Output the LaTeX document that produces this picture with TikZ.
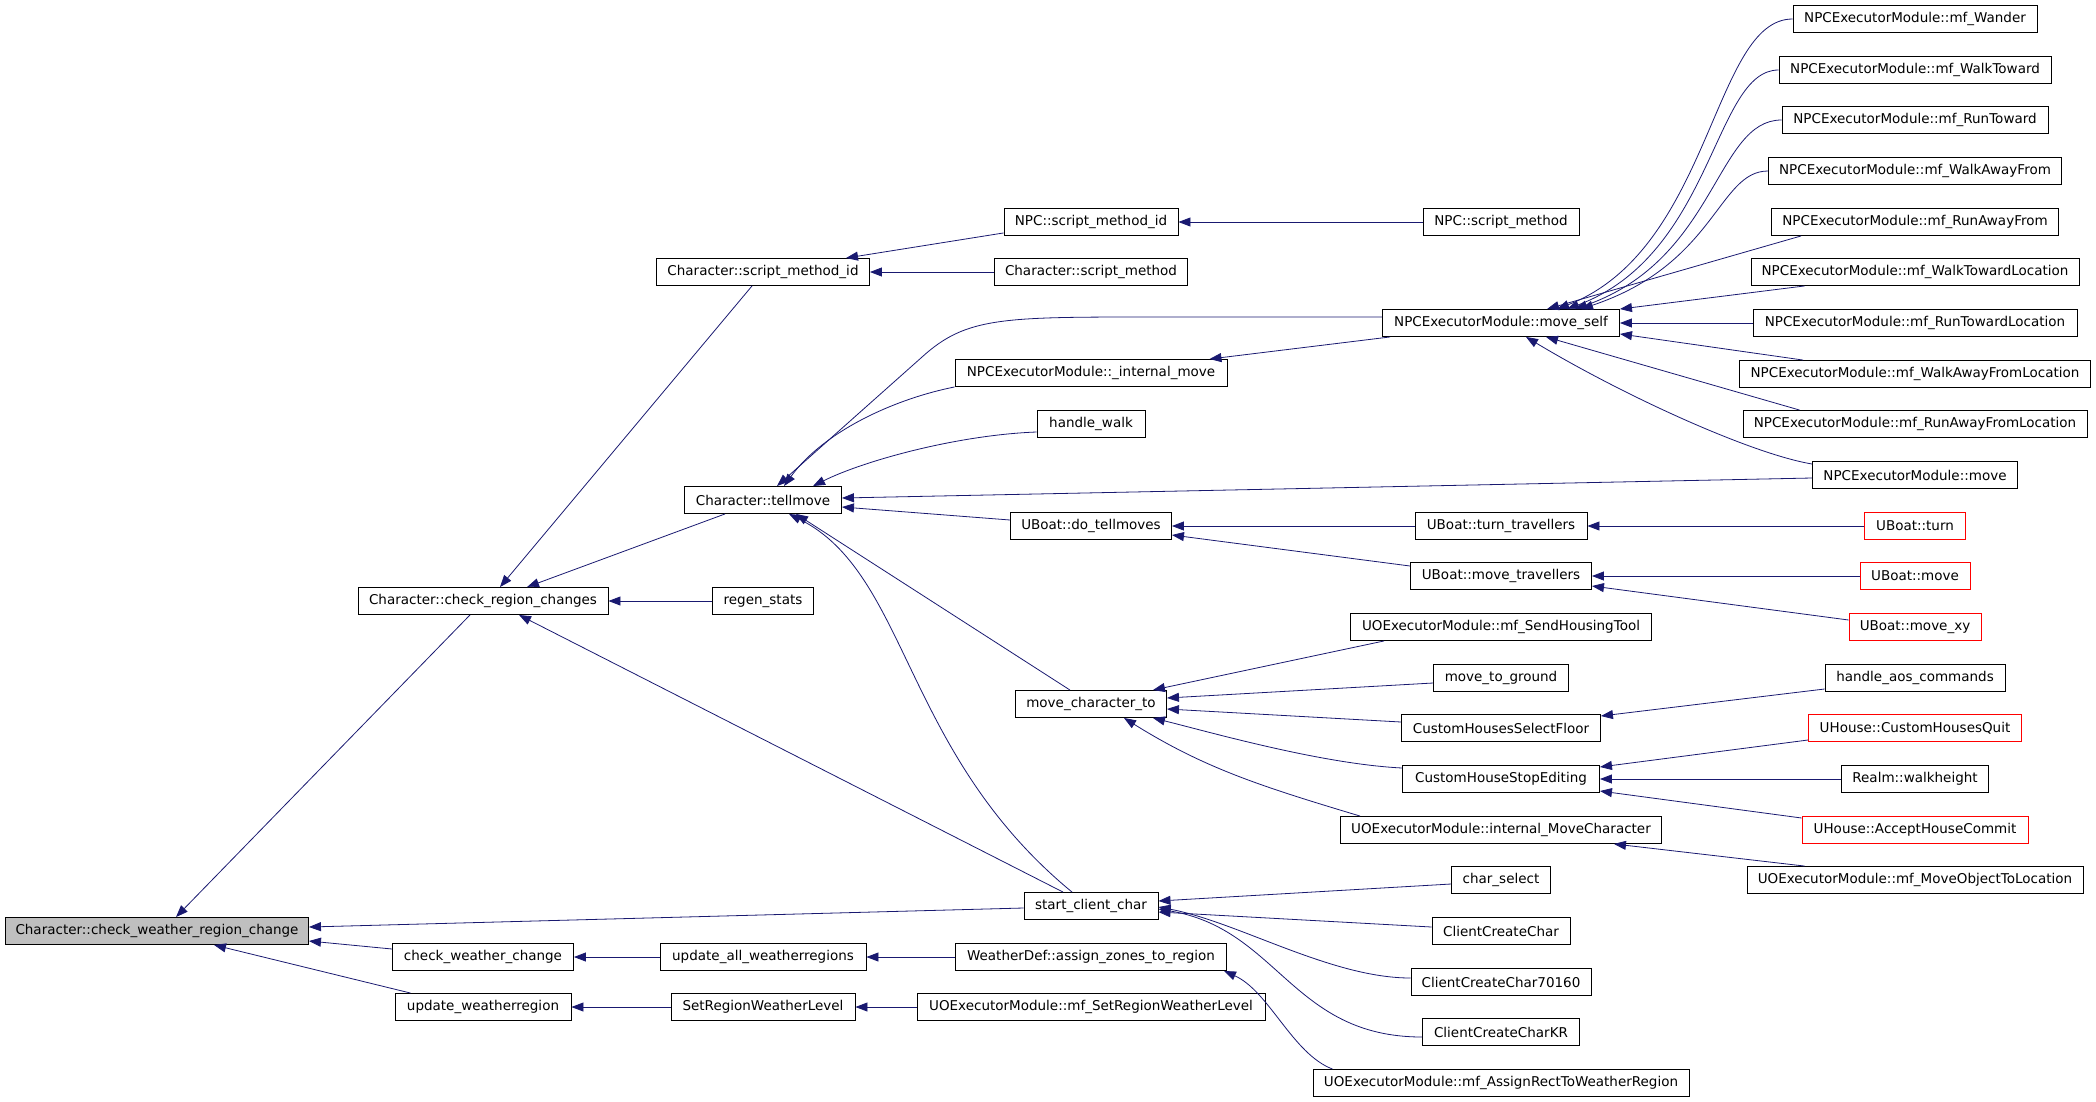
\documentclass[tikz,border=0pt]{standalone}
\usepackage{fontspec}
\setmainfont{DejaVu Sans}
\usetikzlibrary{arrows.meta}
\definecolor{edgeblue}{HTML}{191970}
\definecolor{rootgray}{HTML}{BFBFBF}

\begin{document}
\begin{tikzpicture}[
    x=1pt, y=1pt,
    fn/.style={rectangle, draw, line width=0.9pt, minimum height=27pt, inner sep=0pt,
        font=\fontsize{13.5}{16}\selectfont},
    fnred/.style={fn, draw=red},
    fnroot/.style={fn, fill=rootgray},
    call/.style={draw=edgeblue, line width=0.8pt, -{Triangle[length=12pt, width=9pt]}}
]
    \useasboundingbox (0,0) rectangle (2096,-1101);

    % Root
    \node[fnroot, minimum width=303pt] (cwrc) at (157,-931) {Character::check\_weather\_region\_change};

    % First level callers
    \node[fn, minimum width=250pt] (crc) at (483,-601) {Character::check\_region\_changes};
    \node[fn, minimum width=181pt] (cwc) at (483,-957) {check\_weather\_change};
    \node[fn, minimum width=176pt] (uwr) at (483,-1007) {update\_weatherregion};

    % Second level
    \node[fn, minimum width=213pt] (csmi) at (763,-272) {Character::script\_method\_id};
    \node[fn, minimum width=157pt] (ctm) at (763,-500) {Character::tellmove};
    \node[fn, minimum width=101pt] (regen) at (763,-601) {regen\_stats};
    \node[fn, minimum width=206pt] (uawr) at (763,-957) {update\_all\_weatherregions};
    \node[fn, minimum width=184pt] (srwl) at (763,-1007) {SetRegionWeatherLevel};

    % Third level
    \node[fn, minimum width=174pt] (npcsmi) at (1091,-222) {NPC::script\_method\_id};
    \node[fn, minimum width=193pt] (csm) at (1091,-272) {Character::script\_method};
    \node[fn, minimum width=272pt] (im) at (1091,-373) {NPCExecutorModule::\_internal\_move};
    \node[fn, minimum width=108pt] (hw) at (1091,-424) {handle\_walk};
    \node[fn, minimum width=161pt] (dtm) at (1091,-526) {UBoat::do\_tellmoves};
    \node[fn, minimum width=151pt] (mct) at (1091,-704) {move\_character\_to};
    \node[fn, minimum width=134pt] (scc) at (1091,-906) {start\_client\_char};
    \node[fn, minimum width=271pt] (wdaz) at (1091,-957) {WeatherDef::assign\_zones\_to\_region};
    \node[fn, minimum width=348pt] (msrwl) at (1091,-1007) {UOExecutorModule::mf\_SetRegionWeatherLevel};

    % Fourth level
    \node[fn, minimum width=156pt] (npcsm) at (1501,-222) {NPC::script\_method};
    \node[fn, minimum width=237pt] (ms) at (1501,-323) {NPCExecutorModule::move\_self};
    \node[fn, minimum width=172pt] (ttr) at (1501,-526) {UBoat::turn\_travellers};
    \node[fn, minimum width=181pt] (mtr) at (1501,-576) {UBoat::move\_travellers};
    \node[fn, minimum width=301pt] (shtool) at (1501,-627) {UOExecutorModule::mf\_SendHousingTool};
    \node[fn, minimum width=135pt] (mtg) at (1501,-678) {move\_to\_ground};
    \node[fn, minimum width=199pt] (chsf) at (1501,-728) {CustomHousesSelectFloor};
    \node[fn, minimum width=197pt] (chse) at (1501,-779) {CustomHouseStopEditing};
    \node[fn, minimum width=321pt] (imc) at (1501,-830) {UOExecutorModule::internal\_MoveCharacter};
    \node[fn, minimum width=99pt] (chs) at (1501,-880) {char\_select};
    \node[fn, minimum width=138pt] (ccc) at (1501,-931) {ClientCreateChar};
    \node[fn, minimum width=180pt] (ccc7) at (1501,-982) {ClientCreateChar70160};
    \node[fn, minimum width=157pt] (cckr) at (1501,-1032) {ClientCreateCharKR};
    \node[fn, minimum width=376pt] (arwr) at (1501,-1083) {UOExecutorModule::mf\_AssignRectToWeatherRegion};

    % Fifth level
    \node[fn, minimum width=244pt] (wander) at (1915,-19) {NPCExecutorModule::mf\_Wander};
    \node[fn, minimum width=272pt] (wt) at (1915,-70) {NPCExecutorModule::mf\_WalkToward};
    \node[fn, minimum width=266pt] (rt) at (1915,-120) {NPCExecutorModule::mf\_RunToward};
    \node[fn, minimum width=293pt] (waf) at (1915,-171) {NPCExecutorModule::mf\_WalkAwayFrom};
    \node[fn, minimum width=287pt] (raf) at (1915,-222) {NPCExecutorModule::mf\_RunAwayFrom};
    \node[fn, minimum width=328pt] (wtl) at (1915,-272) {NPCExecutorModule::mf\_WalkTowardLocation};
    \node[fn, minimum width=324pt] (rtl) at (1915,-323) {NPCExecutorModule::mf\_RunTowardLocation};
    \node[fn, minimum width=351pt] (wafl) at (1915,-374) {NPCExecutorModule::mf\_WalkAwayFromLocation};
    \node[fn, minimum width=344pt] (rafl) at (1915,-424) {NPCExecutorModule::mf\_RunAwayFromLocation};
    \node[fn, minimum width=205pt] (npcmove) at (1915,-475) {NPCExecutorModule::move};
    \node[fnred, minimum width=101pt] (turn) at (1915,-526) {UBoat::turn};
    \node[fnred, minimum width=110pt] (bmove) at (1915,-576) {UBoat::move};
    \node[fnred, minimum width=132pt] (movexy) at (1915,-627) {UBoat::move\_xy};
    \node[fn, minimum width=180pt] (aos) at (1915,-678) {handle\_aos\_commands};
    \node[fnred, minimum width=213pt] (chq) at (1915,-728) {UHouse::CustomHousesQuit};
    \node[fn, minimum width=147pt] (wh) at (1915,-779) {Realm::walkheight};
    \node[fnred, minimum width=226pt] (ahc) at (1915,-830) {UHouse::AcceptHouseCommit};
    \node[fn, minimum width=336pt] (motl) at (1915,-880) {UOExecutorModule::mf\_MoveObjectToLocation};

    % Calls into the root
    \draw[call] ([xshift=-13pt]crc.south) -- ([xshift=19pt]cwrc.north);
    \draw[call] ([yshift=-2pt]scc.west) -- ([yshift=4pt]cwrc.east);
    \draw[call] ([yshift=8pt]cwc.west) -- ([yshift=-10pt]cwrc.east);
    \draw[call] ([xshift=16pt]uwr.north west) -- ([xshift=57pt]cwrc.south);

    % Calls into the first level
    \draw[call] ([xshift=-11pt]csmi.south) -- ([xshift=17pt]crc.north);
    \draw[call] ([xshift=-38pt]ctm.south) -- ([xshift=44pt]crc.north);
    \draw[call] (regen.west) -- (crc.east);
    \draw[call] ([xshift=-28pt]scc.north) -- ([xshift=36pt]crc.south);
    \draw[call] (uawr.west) -- (cwc.east);
    \draw[call] (srwl.west) -- (uwr.east);

    % Calls into the second level
    \draw[call] ([yshift=3pt]npcsmi.south west) -- ([xshift=83pt]csmi.north);
    \draw[call] (csm.west) -- (csmi.east);
    \draw[call] ([yshift=6pt]ms.west) -- ++(-230,0) .. controls +(-150,0) and +(44,40) .. ++(-230,-40) -- ([xshift=14pt]ctm.north);
    \draw[call] (im.south west) .. controls +(-60,-12) and +(40,55) .. ([xshift=21pt]ctm.north);
    \draw[call] ([yshift=-8pt]hw.west) .. controls +(-80,-3) and +(50,25) .. ([xshift=50pt]ctm.north);
    \draw[call] ([yshift=-3pt]npcmove.west) -- ([yshift=2pt]ctm.east);
    \draw[call] ([yshift=6pt]dtm.west) -- ([yshift=-7pt]ctm.east);
    \draw[call] ([xshift=-21pt]mct.north) -- ([xshift=33pt]ctm.south);
    \draw[call] ([xshift=-19pt]scc.north) .. controls +(-170,140) and +(120,-60) .. ([xshift=26pt]ctm.south);
    \draw[call] (wdaz.west) -- (uawr.east);
    \draw[call] (msrwl.west) -- (srwl.east);

    % Calls into the third level
    \draw[call] (npcsm.west) -- (npcsmi.east);
    \draw[call] ([xshift=8pt]ms.south west) -- ([xshift=-18pt]im.north east);
    \draw[call] (ttr.west) -- (dtm.east);
    \draw[call] ([yshift=10pt]mtr.west) -- ([yshift=-9pt]dtm.east);
    \draw[call] ([xshift=34pt]shtool.south west) -- ([xshift=-14pt]mct.north east);
    \draw[call] ([yshift=-5pt]mtg.west) -- ([yshift=6pt]mct.east);
    \draw[call] ([yshift=6pt]chsf.west) -- ([yshift=-5pt]mct.east);
    \draw[call] ([yshift=11pt]chse.west) .. controls +(-80,4) and +(60,-15) .. ([xshift=-14pt]mct.south east);
    \draw[call] ([xshift=20pt]imc.north west) .. controls +(-100,30) and +(80,-50) .. ([xshift=33pt]mct.south);
    \draw[call] ([yshift=-4pt]chs.west) -- ([yshift=5pt]scc.east);
    \draw[call] ([yshift=4pt]ccc.west) -- ([yshift=-6pt]scc.east);
    \draw[call] ([yshift=4pt]ccc7.west) .. controls +(-80,0) and +(80,-15) .. ([yshift=-1pt]scc.east);
    \draw[call] ([yshift=-5pt]cckr.west) .. controls +(-130,0) and +(120,-20) .. ([yshift=-3pt]scc.east);
    \draw[call] ([xshift=20pt]arwr.north west) .. controls +(-40,15) and +(45,-20) .. ([xshift=-3pt]wdaz.south east);

    % Calls into the fourth level
    \draw[call] (wander.west) .. controls +(-80,0) and +(155,60) .. ([xshift=56pt]ms.north);
    \draw[call] (wt.west) .. controls +(-65,0) and +(147,55) .. ([xshift=66pt]ms.north);
    \draw[call] (rt.west) .. controls +(-66,0) and +(142,50) .. ([xshift=74pt]ms.north);
    \draw[call] (waf.west) .. controls +(-50,0) and +(135,45) .. ([xshift=80pt]ms.north);
    \draw[call] ([xshift=30pt]raf.south west) -- ([xshift=46pt]ms.north);
    \draw[call] ([xshift=54pt]wtl.south west) -- (ms.north east);
    \draw[call] (rtl.west) -- (ms.east);
    \draw[call] ([xshift=64pt]wafl.north west) -- ([yshift=3pt]ms.south east);
    \draw[call] ([xshift=57pt]rafl.north west) -- ([xshift=45pt]ms.south);
    \draw[call] ([yshift=11pt]npcmove.west) .. controls +(-60,10) and +(100,-60) .. ([xshift=25pt]ms.south);
    \draw[call] (turn.west) -- (ttr.east);
    \draw[call] (bmove.west) -- (mtr.east);
    \draw[call] ([yshift=7pt]movexy.west) -- ([yshift=-10pt]mtr.east);
    \draw[call] ([yshift=-11pt]aos.west) -- ([yshift=12pt]chsf.east);
    \draw[call] ([yshift=-12pt]chq.west) -- ([yshift=12pt]chse.east);
    \draw[call] (wh.west) -- (chse.east);
    \draw[call] ([yshift=12pt]ahc.west) -- ([yshift=-12pt]chse.east);
    \draw[call] ([xshift=58pt]motl.north west) -- ([xshift=-48pt]imc.south east);

\end{tikzpicture}
\end{document}
